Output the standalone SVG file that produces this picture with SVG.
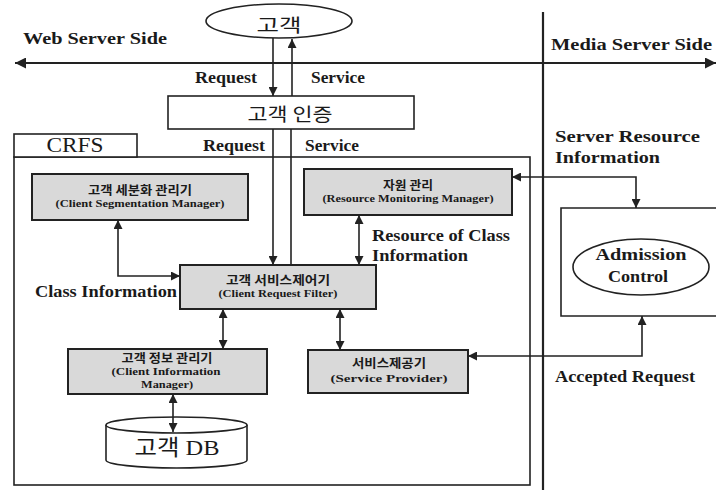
<svg xmlns="http://www.w3.org/2000/svg" width="716" height="490" viewBox="0 0 716 490">
<style>
.bg{fill:#ffffff}
.ln{fill:none;stroke:#222;stroke-width:1.6}
.thick{fill:none;stroke:#222;stroke-width:2.2}
.box{fill:#d9d9d9;stroke:#222;stroke-width:2}
.wbox{fill:#ffffff;stroke:#222;stroke-width:1.6}
.lbl{font-family:"Liberation Serif",serif;font-weight:bold;font-size:16px;fill:#1a1a1a}
.kb{font-family:"Noto Sans CJK KR",sans-serif;font-weight:bold;font-size:12px;fill:#1a1a1a;text-anchor:middle}
.eb{font-family:"Liberation Serif",serif;font-weight:bold;font-size:11px;fill:#1a1a1a;text-anchor:middle}
.kl{font-family:"Noto Sans CJK KR",sans-serif;font-size:18px;fill:#1a1a1a;text-anchor:middle}
.big{font-family:"Liberation Serif","Noto Sans CJK KR",serif;font-size:22px;fill:#1a1a1a;text-anchor:middle}
</style>
<defs>
<marker id="ah" viewBox="0 0 10 10" refX="10" refY="5" markerWidth="9" markerHeight="9" markerUnits="userSpaceOnUse" orient="auto-start-reverse">
<path d="M0,0 L10,5 L0,10 z" fill="#222"/>
</marker>
<marker id="ahb" viewBox="0 0 10 10" refX="10" refY="5" markerWidth="13" markerHeight="11" markerUnits="userSpaceOnUse" orient="auto-start-reverse">
<path d="M0,0 L10,5 L0,10 z" fill="#222"/>
</marker>
</defs>
<rect class="bg" x="0" y="0" width="716" height="490"/>

<g id="sides">
<line class="thick" x1="543" y1="12" x2="543" y2="490"/>
<text class="lbl" x="23" y="44" textLength="144" lengthAdjust="spacingAndGlyphs">Web Server Side</text>
<text class="lbl" x="551" y="50" textLength="161" lengthAdjust="spacingAndGlyphs">Media Server Side</text>
</g>

<g id="crfs">
<rect class="wbox" x="14" y="157" width="516" height="328"/>
<rect class="wbox" x="14" y="134" width="123" height="23"/>
<text class="big" x="75" y="152" font-size="20" textLength="57" lengthAdjust="spacingAndGlyphs">CRFS</text>
</g>

<g id="customer">
<ellipse class="wbox" cx="279" cy="21" rx="73" ry="17"/>
<text class="kl" x="279" y="32" font-size="20" textLength="45" lengthAdjust="spacingAndGlyphs">고객</text>
</g>

<g id="auth">
<rect class="wbox" x="168" y="96" width="246" height="33"/>
<text class="kl" x="290" y="121" font-size="17" textLength="85" lengthAdjust="spacingAndGlyphs">고객 인증</text>
</g>

<g id="segmentation">
<rect class="box" x="32" y="174" width="216" height="46"/>
<text class="kb" x="140" y="195" textLength="104" lengthAdjust="spacingAndGlyphs">고객 세분화 관리기</text>
<text class="eb" x="140" y="207" textLength="169" lengthAdjust="spacingAndGlyphs">(Client Segmentation Manager)</text>
</g>

<g id="resource">
<rect class="box" x="304" y="169" width="208" height="46"/>
<text class="kb" x="408" y="190" textLength="50" lengthAdjust="spacingAndGlyphs">자원 관리</text>
<text class="eb" x="408" y="202" textLength="171" lengthAdjust="spacingAndGlyphs">(Resource Monitoring Manager)</text>
</g>

<g id="filter">
<rect class="box" x="180" y="265" width="196" height="44"/>
<text class="kb" x="278" y="285" textLength="104" lengthAdjust="spacingAndGlyphs">고객 서비스제어기</text>
<text class="eb" x="278" y="297" textLength="119" lengthAdjust="spacingAndGlyphs">(Client Request Filter)</text>
</g>

<g id="info">
<rect class="box" x="68" y="349" width="199" height="45"/>
<text class="kb" x="167" y="363" textLength="91" lengthAdjust="spacingAndGlyphs">고객 정보 관리기</text>
<text class="eb" x="166" y="375" textLength="109" lengthAdjust="spacingAndGlyphs">(Client Information</text>
<text class="eb" x="167" y="388" textLength="52" lengthAdjust="spacingAndGlyphs">Manager)</text>
</g>

<g id="provider">
<rect class="box" x="308" y="350" width="160" height="43"/>
<text class="kb" x="389" y="368" font-size="11.5" textLength="74" lengthAdjust="spacingAndGlyphs">서비스제공기</text>
<text class="eb" x="389" y="382" textLength="117" lengthAdjust="spacingAndGlyphs">(Service Provider)</text>
</g>

<g id="db">
<path class="wbox" d="M106,425 V460 A70.5,8 0 0 0 247,460 V425"/>
<ellipse class="wbox" cx="176.5" cy="425" rx="70.5" ry="8"/>
<text class="big" x="177" y="455" textLength="85" lengthAdjust="spacingAndGlyphs">고객 DB</text>
</g>

<g id="admission">
<path class="wbox" d="M720,208 H561 V316 H720"/>
<ellipse class="wbox" cx="641" cy="267" rx="68" ry="28"/>
<text class="lbl" x="641" y="260" text-anchor="middle" textLength="91" lengthAdjust="spacingAndGlyphs">Admission</text>
<text class="lbl" x="638" y="282" text-anchor="middle" textLength="60" lengthAdjust="spacingAndGlyphs">Control</text>
</g>

<g id="connectors">
<line class="thick" x1="15" y1="63" x2="716" y2="63" marker-start="url(#ahb)" marker-end="url(#ahb)"/>
<line class="ln" x1="273" y1="38" x2="273" y2="96" marker-end="url(#ah)"/>
<line class="ln" x1="292" y1="96" x2="292" y2="39" marker-end="url(#ah)"/>
<line class="ln" x1="273" y1="129" x2="273" y2="265" marker-end="url(#ah)"/>
<line class="ln" x1="291" y1="129" x2="291" y2="265"/>
<path class="ln" d="M118,220 V276 H180" marker-start="url(#ah)" marker-end="url(#ah)"/>
<line class="ln" x1="359" y1="215" x2="359" y2="265" marker-start="url(#ah)" marker-end="url(#ah)"/>
<line class="ln" x1="223" y1="309" x2="223" y2="349" marker-start="url(#ah)" marker-end="url(#ah)"/>
<line class="ln" x1="340" y1="309" x2="340" y2="350" marker-start="url(#ah)" marker-end="url(#ah)"/>
<line class="ln" x1="173" y1="394" x2="173" y2="432" marker-start="url(#ah)" marker-end="url(#ah)"/>
<path class="ln" d="M512,177 H636 V208" marker-start="url(#ah)" marker-end="url(#ah)"/>
<path class="ln" d="M642,316 V356 H468" marker-start="url(#ah)" marker-end="url(#ah)"/>
</g>

<g id="labels">
<text class="lbl" x="195" y="83" textLength="62" lengthAdjust="spacingAndGlyphs">Request</text>
<text class="lbl" x="311" y="83" textLength="54" lengthAdjust="spacingAndGlyphs">Service</text>
<text class="lbl" x="203" y="151" textLength="62" lengthAdjust="spacingAndGlyphs">Request</text>
<text class="lbl" x="305" y="151" textLength="54" lengthAdjust="spacingAndGlyphs">Service</text>
<text class="lbl" x="555" y="142" textLength="145" lengthAdjust="spacingAndGlyphs">Server Resource</text>
<text class="lbl" x="555" y="163" textLength="105" lengthAdjust="spacingAndGlyphs">Information</text>
<text class="lbl" x="372" y="241" textLength="138" lengthAdjust="spacingAndGlyphs">Resource of Class</text>
<text class="lbl" x="372" y="261" textLength="96" lengthAdjust="spacingAndGlyphs">Information</text>
<text class="lbl" x="35" y="297" textLength="142" lengthAdjust="spacingAndGlyphs">Class Information</text>
<text class="lbl" x="555" y="382" textLength="140" lengthAdjust="spacingAndGlyphs">Accepted Request</text>
</g>
</svg>
